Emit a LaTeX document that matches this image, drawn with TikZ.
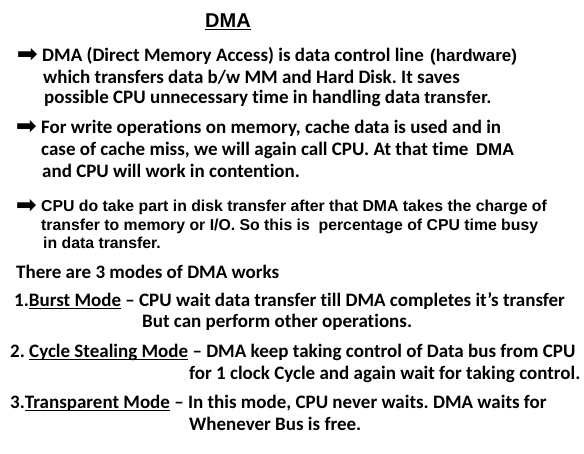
\documentclass[tikz,border=0pt]{standalone}
\usepackage{fontspec}
\setmainfont{Carlito}[Ligatures={TeX,NoCommon}]
\newfontfamily\arialfont{Liberation Sans}
\newfontfamily\symfont{DejaVu Sans}
\usetikzlibrary{positioning}
\frenchspacing
\newlength\undlw
\newcommand{\undl}[1]{\settowidth{\undlw}{#1}\rlap{\rule[-3pt]{\undlw}{1.5pt}}#1}

\begin{document}
\begin{tikzpicture} [
			x=1pt, y=-1pt,
			every node/.style={inner sep=0pt,anchor=base west,font=\bfseries\fontsize{19}{22}\selectfont},
			title/.style={font=\arialfont\bfseries\fontsize{20}{24}\selectfont},
			txt/.style={},
			ari/.style={font=\arialfont\bfseries\fontsize{15.8}{18}\selectfont},
			arrowmark/.style={anchor=east,font=\symfont\fontsize{25}{28}\selectfont}
		]
			\newcommand{\ar}[1]{{\arialfont\fontsize{17}{20}\selectfont #1}}
			\useasboundingbox (0,0) rectangle (584,453);
			\node at (205,27) [title] (head) {\undl{DMA}};
			\node at (42,61) [txt] (bulA1) {DMA (Direct Memory Access) is data control line\hspace{2pt} \ar{(hardware)}};
			\node at (43,83) [txt] (bulA2) {which transfers data b/w MM and Hard Disk. It saves};
			\node at (44,103) [txt] (bulA3) {possible CPU unnecessary time in handling data \ar{transfer.}};
			\node at (41,133) [txt] (bulB1) {For write operations on memory, cache data is used and in};
			\node at (41,155) [txt] (bulB2) {case of cache miss, we will again call CPU. At that time\hspace{3pt} \ar{DMA}};
			\node at (42,177) [txt] (bulB3) {and CPU will work in contention.};
			\node at (41,211) [ari] (bulC1) {CPU do take part in disk transfer after that DMA takes the charge of};
			\node at (41,230) [ari] (bulC2) {transfer to memory or I/O. So this is \ percentage of CPU time busy};
			\node at (43,248) [ari] (bulC3) {in data transfer.};
			\node[arrowmark, left=4pt of bulA1.west] (arrA) {➡};
			\node[arrowmark, left=4pt of bulB1.west] (arrB) {➡};
			\node[arrowmark, left=4pt of bulC1.west] (arrC) {➡};
			\node at (16,278) [txt] (modes) {There are 3 modes of DMA works};
			\node at (14,306) [txt] (burst1) {1.\undl{Burst Mode} – CPU wait data transfer till DMA completes it’s transfer};
			\node at (142,327) [txt] (burst2) {But can perform other operations.};
			\node at (10,357) [txt] (cycle1) {2. \undl{Cycle Stealing Mode} – DMA keep taking control of Data bus from CPU};
			\node at (189,379) [txt] (cycle2) {for 1 clock Cycle and again wait for taking control.};
			\node at (10,408) [txt] (trans1) {3.\undl{Transparent Mode} – In this mode, CPU never waits. DMA waits for};
			\node at (189,430) [txt] (trans2) {Whenever Bus is free.};
		\end{tikzpicture}
\end{document}
